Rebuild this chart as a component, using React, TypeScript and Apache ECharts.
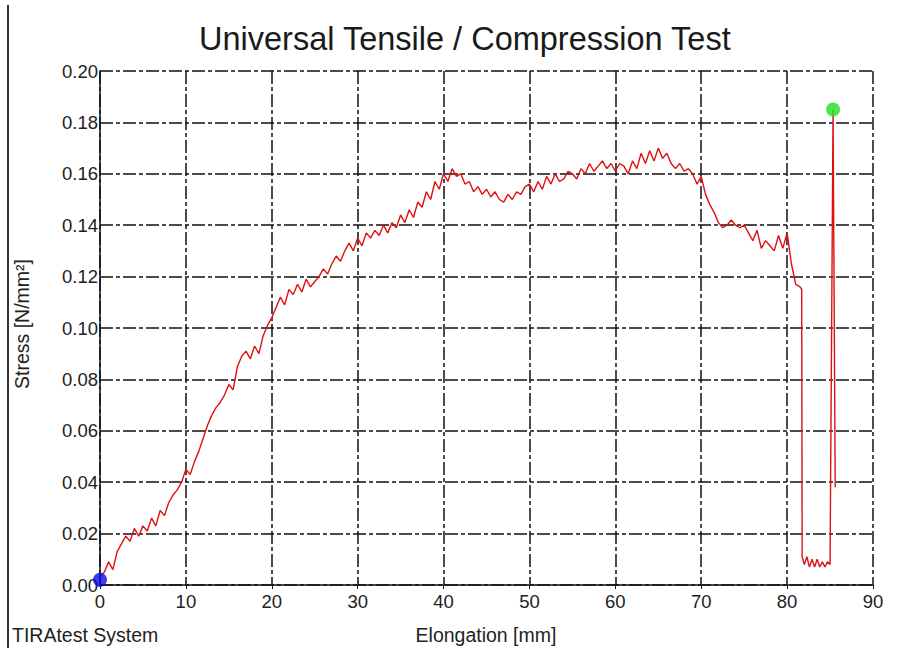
import React, { useEffect, useRef } from "react";
import * as echarts from "echarts";

const TITLE = "Universal Tensile / Compression Test";
const X_NAME = "Elongation [mm]";
const Y_NAME = "Stress [N/mm²]";
const FOOTER = "TIRAtest System";

// main curve sampled every 0.5 mm from 0 to 81.5 mm
const SAMPLE_STEP = 0.5;
const stress: number[] = [
  0.003, 0.005, 0.009, 0.006, 0.013, 0.016, 0.019, 0.017, 0.022, 0.019,
  0.023, 0.021, 0.026, 0.023, 0.029, 0.027, 0.032, 0.035, 0.037, 0.040,
  0.045, 0.043, 0.048, 0.052, 0.057, 0.062, 0.066, 0.069, 0.071, 0.074,
  0.078, 0.076, 0.085, 0.089, 0.091, 0.088, 0.093, 0.090, 0.097, 0.101,
  0.104, 0.108, 0.112, 0.109, 0.115, 0.113, 0.117, 0.114, 0.119, 0.116,
  0.118, 0.120, 0.123, 0.121, 0.125, 0.128, 0.126, 0.130, 0.133, 0.130,
  0.135, 0.132, 0.137, 0.135, 0.138, 0.136, 0.140, 0.137, 0.141, 0.139,
  0.144, 0.141, 0.146, 0.143, 0.149, 0.147, 0.153, 0.150, 0.157, 0.154,
  0.160, 0.157, 0.162, 0.159, 0.160, 0.156, 0.157, 0.153, 0.155, 0.152,
  0.154, 0.151, 0.153, 0.150, 0.149, 0.152, 0.150, 0.153, 0.152, 0.155,
  0.156, 0.153, 0.157, 0.154, 0.159, 0.156, 0.160, 0.157, 0.158, 0.161,
  0.160, 0.158, 0.162, 0.160, 0.164, 0.161, 0.163, 0.165, 0.162, 0.164,
  0.161, 0.164, 0.163, 0.160, 0.165, 0.162, 0.168, 0.164, 0.169, 0.165,
  0.170, 0.166, 0.168, 0.164, 0.162, 0.164, 0.161, 0.162, 0.160, 0.156,
  0.159, 0.152, 0.148, 0.145, 0.141, 0.139, 0.140, 0.142, 0.140, 0.139,
  0.140, 0.137, 0.134, 0.138, 0.131, 0.134, 0.132, 0.130, 0.136, 0.131,
  0.137, 0.125, 0.117, 0.116,
];

// break, floor and final spike
const tailElongation: number[] = [81.7, 81.75, 82.0, 82.3, 82.6, 82.9, 83.2, 83.5, 83.8, 84.1, 84.4, 84.7, 85.0, 85.35, 85.6];
const tailStress: number[] = [0.115, 0.011, 0.008, 0.011, 0.007, 0.010, 0.007, 0.010, 0.007, 0.009, 0.007, 0.009, 0.008, 0.185, 0.038];

const startPoint: [number, number] = [0, 0.002];
const endPoint: [number, number] = [85.35, 0.185];

const xTicks = { min: 0, max: 90, interval: 10 };
const yTicks = { min: 0, max: 0.2, interval: 0.02 };

export default function App() {
  const ref = useRef<HTMLDivElement>(null);
  useEffect(() => {
    if (!ref.current) return;
    const chart = echarts.init(ref.current, null, { renderer: "svg" });
    const curve: [number, number][] = stress.map((v, i) => [i * SAMPLE_STEP, v]);
    tailElongation.forEach((x, i) => curve.push([x, tailStress[i]]));
    const font = "'Liberation Sans', Arial, sans-serif";
    const gridLine = { show: true, lineStyle: { color: "#111", width: 1.5, type: [13, 3, 4, 3] as any } };
    chart.setOption({
      animation: false,
      backgroundColor: "#fff",
      textStyle: { fontFamily: font },
      title: {
        text: TITLE,
        left: 194,
        top: 17,
        textStyle: { fontFamily: font, fontSize: 32.5, fontWeight: "normal", color: "#1a1a1a" },
      },
      grid: { left: 100, right: 32, top: 71, bottom: 63, containLabel: false, outerBoundsMode: "none" } as any,
      xAxis: {
        type: "value",
        min: xTicks.min,
        max: xTicks.max,
        interval: xTicks.interval,
        axisLine: { show: true, onZero: false, lineStyle: { color: "#111", width: 1.5 } },
        axisTick: { show: true, length: 4, inside: false, lineStyle: { color: "#111" } },
        axisLabel: { fontSize: 18.5, color: "#222", margin: 7, fontFamily: font },
        splitLine: gridLine,
      },
      yAxis: {
        type: "value",
        min: yTicks.min,
        max: yTicks.max,
        interval: yTicks.interval,
        axisLine: { show: true, onZero: false, lineStyle: { color: "#111", width: 1.5 } },
        axisTick: { show: false },
        axisLabel: { fontSize: 18.5, color: "#222", margin: 2, fontFamily: font, formatter: (v: number) => v.toFixed(2) },
        splitLine: gridLine,
      },
      graphic: [
        { type: "line", shape: { x1: 8, y1: 5, x2: 8, y2: 648 }, style: { stroke: "#333", lineWidth: 2 } },
        {
          type: "text", x: 22, y: 324, rotation: Math.PI / 2,
          style: { text: Y_NAME, fontSize: 19.5, fill: "#222", fontFamily: font, textAlign: "center", textVerticalAlign: "middle" },
        },
        {
          type: "text", x: 486, y: 635,
          style: { text: X_NAME, fontSize: 19.5, fill: "#222", fontFamily: font, textAlign: "center", textVerticalAlign: "middle" },
        },
        {
          type: "text", x: 12, y: 635,
          style: { text: FOOTER, fontSize: 19.5, fill: "#222", fontFamily: font, textAlign: "left", textVerticalAlign: "middle" },
        },
      ],
      series: [
        {
          type: "line",
          data: curve,
          showSymbol: false,
          lineStyle: { color: "#e01010", width: 1.4 },
          silent: true,
          z: 3,
        },
        {
          type: "scatter",
          data: [startPoint],
          symbolSize: 14,
          itemStyle: { color: "#0a0ae6" },
          z: 5,
        },
        {
          type: "scatter",
          data: [endPoint],
          symbolSize: 14,
          itemStyle: { color: "#22dd22" },
          z: 5,
        },
      ],
    });
    return () => chart.dispose();
  }, []);
  return <div ref={ref} style={{ width: 905, height: 648, position: "absolute", left: 0, top: 0 }} />;
}
